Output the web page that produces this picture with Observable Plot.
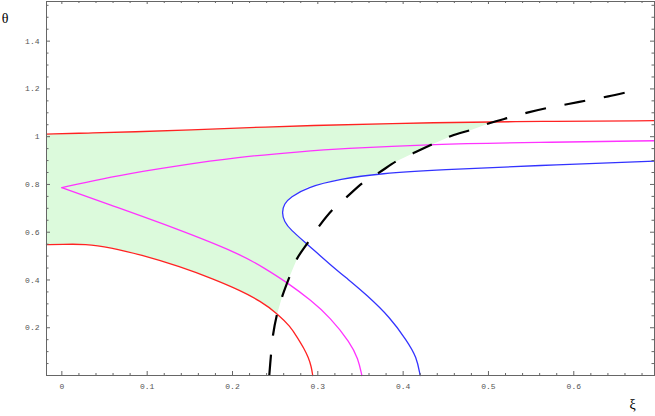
<!DOCTYPE html>
<html><head><meta charset="utf-8">
<script src="https://cdn.jsdelivr.net/npm/d3@7"></script>
<script src="https://cdn.jsdelivr.net/npm/@observablehq/plot@0.6"></script>
<style>body{margin:0;background:#fff} svg{display:block}</style>
</head><body><div id="chart"></div>
<script>
// [xi, theta] pairs
const redUpper = [[-0.018,1.011],[0.0335,1.0155],[0.0687,1.018],[0.2093,1.0364],[0.2796,1.046],[0.4437,1.060],[0.561,1.064],[0.6946,1.067]];
const redLower = [[-0.018,0.548],[0,0.549],[0.0276,0.551],[0.0569,0.536],[0.092,0.506],[0.1389,0.456],[0.1776,0.4038],[0.2093,0.3556],[0.2327,0.3117],[0.2526,0.2594],[0.2678,0.2050],[0.2760,0.1590],[0.2842,0.1109],[0.2889,0.0753],[0.2924,0.0377],[0.2940,0]];
const magentaUpper = [[0.6946,0.983],[0.5569,0.976],[0.4351,0.969],[0.3262,0.950],[0.2794,0.937],[0.2091,0.916],[0.1237,0.872],[0.1002,0.858],[0.0452,0.822],[0,0.787]];
const magentaLower = [[0,0.787],[0.0534,0.718],[0.1307,0.620],[0.2091,0.509],[0.2372,0.450],[0.2642,0.389],[0.2923,0.314],[0.3145,0.243],[0.3379,0.138],[0.3473,0.071],[0.3516,0]];
const blue = [[0.6946,0.898],[0.5569,0.879],[0.4433,0.862],[0.3731,0.846],[0.3262,0.823],[0.2872,0.788],[0.2677,0.746],[0.2607,0.720],[0.2577,0.682],[0.2607,0.644],[0.2677,0.611],[0.2872,0.551],[0.3145,0.464],[0.3356,0.402],[0.3567,0.339],[0.3848,0.243],[0.4043,0.146],[0.4160,0.077],[0.4199,0]];
const dashed = [[0.2431,0],[0.2451,0.0866],[0.2474,0.1674],[0.2521,0.2552],[0.2580,0.3285],[0.2669,0.4142],[0.2755,0.4883],[0.2891,0.5607],[0.3020,0.6276],[0.3180,0.6967],[0.3344,0.7490],[0.3535,0.8088],[0.3722,0.8506],[0.3933,0.8996],[0.4141,0.9343],[0.4369,0.9728],[0.4570,1.0042],[0.4804,1.0293],[0.5019,1.0573],[0.5253,1.0808],[0.5467,1.1017],[0.5721,1.1226],[0.5936,1.1368],[0.6181,1.1536],[0.6404,1.1686],[0.6650,1.1883]];

const xTicks = [0,0.1,0.2,0.3,0.4,0.5,0.6];
const xTickLabels = ["0","0.1","0.2","0.3","0.4","0.5","0.6"];
const yTicks = [0.2,0.4,0.6,0.8,1,1.2,1.4];
const yTickLabels = ["0.2","0.4","0.6","0.8","1","1.2","1.4"];
const xMinor = d3.range(0, 0.70, 0.02).map(v => +v.toFixed(2)).filter(v => Math.abs(v*10 - Math.round(v*10)) > 1e-6);
const yMinor = d3.range(0.05, 1.56, 0.05).map(v => +v.toFixed(2)).filter(v => Math.abs(v*5 - Math.round(v*5)) > 1e-6);

// intersections between two polylines
function crossings(A, B) {
  const out = [];
  for (let i = 0; i < A.length - 1; i++) {
    const [x1,y1] = A[i], [x2,y2] = A[i+1];
    for (let j = 0; j < B.length - 1; j++) {
      const [x3,y3] = B[j], [x4,y4] = B[j+1];
      const den = (x1-x2)*(y3-y4) - (y1-y2)*(x3-x4);
      if (Math.abs(den) < 1e-12) continue;
      const t = ((x1-x3)*(y3-y4) - (y1-y3)*(x3-x4)) / den;
      const u = ((x1-x3)*(y1-y2) - (y1-y3)*(x1-x2)) / den;
      if (t >= 0 && t <= 1 && u >= 0 && u <= 1) {
        const p = [x1 + t*(x2-x1), y1 + t*(y2-y1)];
        if (!out.some(o => Math.abs(o.p[0]-p[0]) < 1e-6 && Math.abs(o.p[1]-p[1]) < 1e-6)) out.push({i, j, p});
      }
    }
  }
  return out;
}
const c1 = crossings(redUpper, dashed)[0];
const cb = crossings(blue, dashed).sort((a,b) => a.i - b.i);
const cU = cb[0], cL = cb[cb.length-1];
const c3 = crossings(redLower, dashed)[0];
const region = [];
for (let k = 0; k <= c1.i; k++) region.push(redUpper[k]);
region.push(c1.p);
for (let k = c1.j; k >= cU.j + 1; k--) region.push(dashed[k]);
region.push(cU.p);
for (let k = cU.i + 1; k <= cL.i; k++) region.push(blue[k]);
region.push(cL.p);
for (let k = cL.j; k >= c3.j + 1; k--) region.push(dashed[k]);
region.push(c3.p);
for (let k = c3.i; k >= 0; k--) region.push(redLower[k]);

const X = d => d[0], Y = d => d[1];
const tickColor = "#666";
const labelFont = {fontFamily: "Liberation Mono, DejaVu Sans Mono, monospace", fontSize: 8, fill: "#555"};

const chart = Plot.plot({
  width: 655, height: 416,
  marginLeft: 46, marginRight: 1, marginTop: 1, marginBottom: 41,
  x: {domain: [-0.018, 0.6946], axis: null},
  y: {domain: [0, 1.566], axis: null},
  style: {background: "white", overflow: "visible"},
  marks: [
    Plot.line(region, {x: X, y: Y, fill: "#dcfadc", stroke: "none"}),
    Plot.line(redUpper, {x: X, y: Y, stroke: "#f22", strokeWidth: 1.3, curve: "basis"}),
    Plot.line(redLower, {x: X, y: Y, stroke: "#f22", strokeWidth: 1.3, curve: "basis"}),
    Plot.line(magentaUpper, {x: X, y: Y, stroke: "#f3f", strokeWidth: 1.3, curve: "basis"}),
    Plot.line(magentaLower, {x: X, y: Y, stroke: "#f3f", strokeWidth: 1.3, curve: "basis"}),
    Plot.line(blue, {x: X, y: Y, stroke: "#33f", strokeWidth: 1.3, curve: "basis"}),
    Plot.line(dashed, {x: X, y: Y, stroke: "#000", strokeWidth: 2.2, strokeDasharray: "21,19", strokeLinecap: "butt", curve: "catmull-rom"}),
    Plot.frame({stroke: tickColor}),
    // ticks (inward, all four sides)
    Plot.tickX(xTicks, {x: d => d, insetTop: 370, stroke: tickColor}),
    Plot.tickX(xTicks, {x: d => d, insetBottom: 371, stroke: tickColor}),
    Plot.tickX(xMinor, {x: d => d, insetTop: 372, stroke: tickColor}),
    Plot.tickX(xMinor, {x: d => d, insetBottom: 372, stroke: tickColor}),
    Plot.tickY(yTicks, {y: d => d, insetRight: 604, stroke: tickColor}),
    Plot.tickY(yTicks, {y: d => d, insetLeft: 604, stroke: tickColor}),
    Plot.tickY(yMinor, {y: d => d, insetRight: 605.5, stroke: tickColor}),
    Plot.tickY(yMinor, {y: d => d, insetLeft: 605.5, stroke: tickColor}),
    // tick labels
    Plot.text(xTicks, {x: d => d, text: (d, i) => xTickLabels[i], frameAnchor: "bottom", lineAnchor: "middle", textAnchor: "middle", dy: 11, ...labelFont}),
    Plot.text(yTicks, {y: d => d, text: (d, i) => yTickLabels[i], frameAnchor: "left", lineAnchor: "middle", textAnchor: "end", dx: -7, ...labelFont}),
    // axis labels
    Plot.text(["θ"], {frameAnchor: "top-left", textAnchor: "middle", lineAnchor: "middle", dx: -41.5, dy: 17, fontSize: 14, fontFamily: "Liberation Serif, serif", fill: "#000"}),
    Plot.text(["ξ"], {frameAnchor: "bottom-right", textAnchor: "middle", lineAnchor: "middle", dx: -22, dy: 29, fontSize: 14, fontFamily: "Liberation Serif, serif", fill: "#000"})
  ]
});
document.getElementById("chart").append(chart);
</script>
</body></html>
